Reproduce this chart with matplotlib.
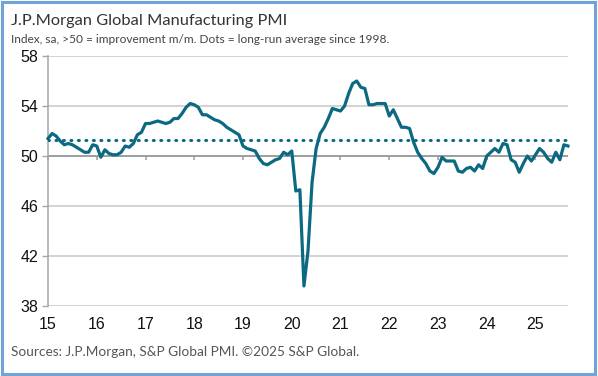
import numpy as np
import matplotlib
matplotlib.use("Agg")
import matplotlib.pyplot as plt
from matplotlib.patches import Rectangle

# J.P.Morgan Global Manufacturing PMI, monthly, Jan 2015 - Sep 2025
pmi_2015 = [51.4, 51.8, 51.6, 51.2, 50.9, 51.0, 50.9, 50.7, 50.5, 50.3, 50.3, 50.9]
pmi_2016 = [50.8, 49.9, 50.5, 50.2, 50.1, 50.1, 50.3, 50.8, 50.7, 51.0, 51.7, 51.9]
pmi_2017 = [52.6, 52.6, 52.7, 52.8, 52.7, 52.6, 52.7, 53.0, 53.0, 53.4, 53.9, 54.2]
pmi_2018 = [54.1, 53.9, 53.3, 53.3, 53.1, 52.9, 52.8, 52.6, 52.3, 52.1, 51.9, 51.7]
pmi_2019 = [50.8, 50.6, 50.5, 50.4, 49.8, 49.4, 49.3, 49.5, 49.7, 49.8, 50.3, 50.1]
pmi_2020 = [50.4, 47.2, 47.3, 39.6, 42.4, 47.9, 50.6, 51.8, 52.3, 53.0, 53.8, 53.7]
pmi_2021 = [53.6, 54.0, 55.0, 55.8, 56.0, 55.5, 55.4, 54.1, 54.1, 54.2, 54.2, 54.2]
pmi_2022 = [53.2, 53.7, 53.0, 52.3, 52.3, 52.2, 51.1, 50.3, 49.8, 49.4, 48.8, 48.6]
pmi_2023 = [49.1, 49.9, 49.6, 49.6, 49.6, 48.8, 48.7, 49.0, 49.1, 48.8, 49.3, 49.0]
pmi_2024 = [50.0, 50.3, 50.6, 50.3, 51.0, 50.9, 49.7, 49.5, 48.7, 49.4, 50.0, 49.6]
pmi_2025 = [50.1, 50.6, 50.3, 49.8, 49.5, 50.3, 49.7, 50.9, 50.8]

long_run_avg = 51.3
year_ticks = list(range(15, 26))
y_ticks = [38, 42, 46, 50, 54, 58]

pmi = np.array(pmi_2015 + pmi_2016 + pmi_2017 + pmi_2018 + pmi_2019 + pmi_2020
               + pmi_2021 + pmi_2022 + pmi_2023 + pmi_2024 + pmi_2025)
t = 15 + np.arange(len(pmi)) / 12

teal = "#0b6a82"
text_font = ["Lato", "DejaVu Sans"]

fig = plt.figure(figsize=(5.98, 3.76), dpi=100)
ax = fig.add_axes([0.0803, 0.1862, 0.8695, 0.6648])

ax.set_xlim(15, t[-1])
ax.set_ylim(38, 58)
ax.set_yticks(y_ticks)
ax.set_xticks(year_ticks)
ax.grid(axis="y", color="#c8c8c8", lw=1.1)
ax.set_axisbelow(True)
for s in ["top", "right", "bottom"]:
    ax.spines[s].set_visible(False)
ax.spines["left"].set_color("#a6a6a6")
ax.spines["left"].set_linewidth(1.1)
ax.tick_params(axis="y", length=4, width=1, color="#a6a6a6", pad=3,
               labelsize=11.5, labelcolor="#111111")
ax.tick_params(axis="x", length=0, pad=8, labelsize=11.5, labelcolor="#111111")
for lab in ax.get_xticklabels() + ax.get_yticklabels():
    lab.set_family(["Liberation Sans", "DejaVu Sans"])

# axis line at 50 with tick marks below it
ax.axhline(50, color="#9a9a9a", lw=1.3, zorder=2)
ax.vlines(year_ticks, 49.68, 50, color="#9a9a9a", lw=1.1, zorder=2, clip_on=False)

ax.axhline(long_run_avg, color=teal, lw=2.2, ls=(0, (0.3, 2.15)),
           dash_capstyle="round", zorder=3)
ax.plot(t, pmi, color=teal, lw=2.3, solid_joinstyle="round", zorder=4, clip_on=False)

fig.text(0.018, 0.944, "J.P.Morgan Global Manufacturing PMI", fontsize=11.8,
         color="#333333", va="center", family=text_font)
fig.text(0.018, 0.895, "Index, sa, >50 = improvement m/m. Dots = long-run average since 1998.",
         fontsize=8.6, color="#444444", va="center", family=text_font)
fig.text(0.018, 0.064, "Sources: J.P.Morgan, S&P Global PMI. \u00a92025 S&P Global.",
         fontsize=9.8, color="#555555", va="center", family=text_font)

fig.patches.append(Rectangle((0.003, 0.006), 0.992, 0.99, transform=fig.transFigure,
                             fill=False, ec="#6fa3d9", lw=2.2))

fig.savefig("out.png", dpi=100)
